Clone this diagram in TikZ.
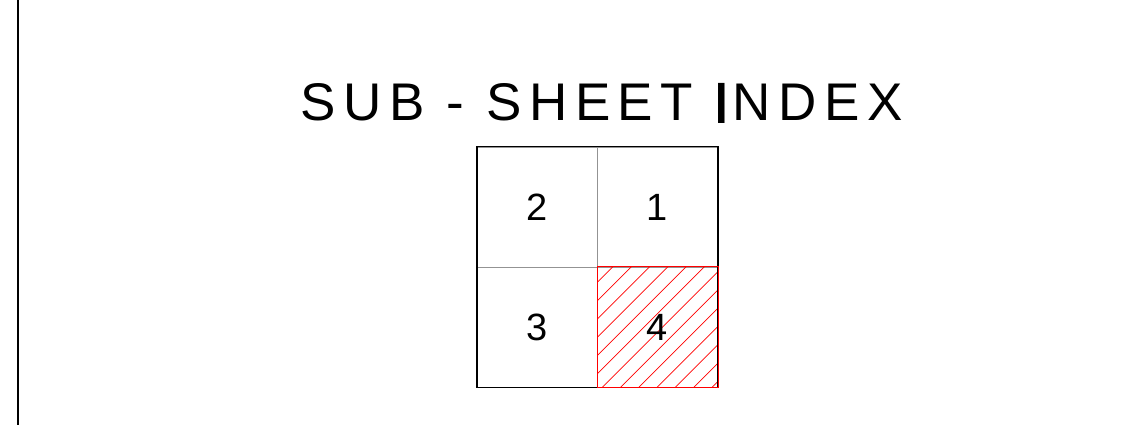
\documentclass[tikz,border=0pt]{standalone}
\usepackage{fontspec}
\setmainfont{Liberation Sans}
\begin{document}
\begin{tikzpicture}[x=1pt,y=-1pt,
  cell/.style={draw=gray!85, line width=0.8pt, minimum size=120pt, inner sep=0pt, font=\fontsize{38}{38}\selectfont},
  digit/.style={inner sep=0pt, font=\fontsize{38}{38}\selectfont},
  hatch/.style={draw=red, line width=0.7pt},
  titlefont/.style={inner sep=0pt, font=\fontsize{53}{53}\selectfont\addfontfeature{LetterSpace=14.1}}]
\useasboundingbox (0,0) rectangle (1143,425);
\coordinate (ltop) at (18.3,0);
\coordinate (lbot) at (18.3,425);
\draw[line width=2pt] (ltop) -- (lbot);
\node[titlefont, anchor=base] (title) at (601.5,121) {SUB - SHEET {\raisebox{-3pt}{\scalebox{0.85}[1.1]{\bfseries I}}}\kern5pt NDEX};
\node[cell] (c2) at (537.5,207) {2};
\node[cell] (c1) at (657.5,207) {1};
\node[cell] (c3) at (537.5,327) {3};
\node[cell] (c4) at (657.5,327) {};
\begin{scope}
  \clip (c4.south west) rectangle (c4.north east);
  \foreach \n in {-1,...,14} {
    \pgfmathsetmacro{\c}{879.7+18.3*\n}
    \draw[hatch] (580,\c-580) -- (740,\c-740);
  }
\end{scope}
\draw[line width=1.3pt] (c2.north west) rectangle (c4.south east);
\draw[red, line width=0.8pt] (c4.south west) rectangle (c4.north east);
\node[digit] (n4) at (c4.center) {4};
\end{tikzpicture}
\end{document}
